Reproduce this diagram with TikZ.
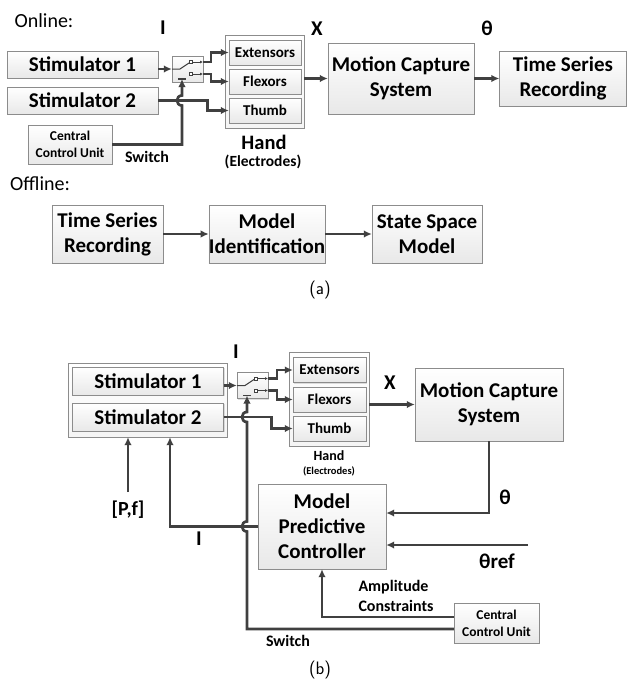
\documentclass[tikz,border=0pt]{standalone}
\usepackage{fontspec}
\setmainfont{Carlito}
\usetikzlibrary{arrows.meta,calc,shadows}

% switch drawn inside a switch box
\newcommand{\drawswitch}[1]{%
  \begin{scope}[shift={(#1.center)}, line width=1pt, draw=black!75]
    \draw (-15.5,0) -- (-7.5,0) -- (1.5,-6);
    \draw[line width=0.6pt, fill=white] (2,-8.5) rectangle (5,-5.5);
    \draw[line width=0.6pt, fill=white] (2,3.5) rectangle (5,6.5);
    \draw[-{Latex[length=3pt,width=3pt]}] (5,-7) -- (15.5,-7);
    \draw[-{Latex[length=3pt,width=3pt]}] (5,5) -- (15.5,5);
    \draw[line width=1.4pt] (-9.5,10) -- (-1.5,10);
  \end{scope}}

\begin{document}
\begin{tikzpicture}[x=1pt,y=-1pt,>={Latex[length=8pt,width=7.5pt]}]
    \tikzstyle{block}=[draw=black!45, top color=white, bottom color=black!9, drop shadow={opacity=0.25,shadow xshift=1.2pt,shadow yshift=-1.2pt}, align=center, inner sep=0pt, font=\fontsize{21}{25}\selectfont\bfseries]
    \tikzstyle{frame}=[draw=black!45, top color=white, bottom color=black!4, inner sep=0pt]
    \tikzstyle{muscle}=[block, minimum width=72pt, minimum height=25pt, font=\fontsize{15}{16}\selectfont\bfseries]
    \tikzstyle{ccu}=[block, minimum width=84pt, minimum height=39pt, font=\fontsize{13.5}{17}\selectfont\bfseries]
    \tikzstyle{swbox}=[block, minimum width=31pt, minimum height=26pt]
    \tikzstyle{wire}=[->, line width=2.7pt, draw=black!75]
    \tikzstyle{sig}=[font=\fontsize{21}{25}\selectfont\bfseries]
    \tikzstyle{annot}=[font=\fontsize{16}{20}\selectfont\bfseries, align=left]
    \tikzstyle{title}=[font=\fontsize{20}{24}\selectfont]
    \tikzstyle{caption}=[font=\fontsize{18}{22}\selectfont\sffamily]

    \useasboundingbox (0,0) rectangle (627,681);

    %%% (a) ONLINE
    \node[title] (online) at (44,21) {Online:};
    \node[sig] (Ia) at (163,28) {I};
    \node[sig] (Xa) at (317,29) {X};
    \node[sig] (tha) at (487,28) {θ};

    \node[block, minimum width=151pt, minimum height=27pt] (S1a) at (82.5,64.5) {Stimulator 1};
    \node[block, minimum width=151pt, minimum height=27pt] (S2a) at (82.5,100.5) {Stimulator 2};
    \node[ccu] (CCUa) at (70,144.5) {Central\\Control Unit};
    \node[annot] (swa) at (147,157) {Switch};
    \node[swbox] (SWa) at (187.5,69) {};
    \drawswitch{SWa}

    \node[frame, minimum width=79pt, minimum height=93pt] (Ha) at (264.5,81.5) {};
    \foreach \name / \txt / \y in {Ea/Extensors/52.5, Fa/Flexors/81.5, Ta/Thumb/110.5}
        \node[muscle] (\name) at (265,\y) {\txt};
    \node[sig, font=\fontsize{20.5}{24}\selectfont\bfseries] (handa) at (264,142) {Hand};
    \node[annot, font=\fontsize{15.5}{18}\selectfont\bfseries] (elea) at (263,162) {(Electrodes)};

    \node[block, minimum width=146pt, minimum height=71pt] (MCSa) at (401,78.5) {Motion Capture\\System};
    \node[block, minimum width=127pt, minimum height=55pt] (TSRa) at (563,78.5) {Time Series\\Recording};

    \coordinate (SWa-o1) at ($(SWa.center)+(15.5,-7)$);
    \coordinate (SWa-o2) at ($(SWa.center)+(15.5,5)$);
    \coordinate (SWa-in) at ($(SWa.center)+(-5.5,10)$);
    \coordinate (hopA) at (SWa-in |- S2a.east);

    \draw[wire] (S1a.east |- SWa.west) -- (SWa.west);
    \draw[wire] (SWa-o1) -- ++(8,0) |- (Ea.west);
    \draw[wire] (SWa-o2) -- ++(8,0) |- (Fa.west);
    \draw[wire] (S2a.east) -- ++(49,0) |- (Ta.west);
    \draw[wire] (CCUa.east) -| ($(hopA)+(0,5)$) to[out=180,in=180,looseness=1.7] ($(hopA)+(0,-5)$) -- (SWa-in);
    \draw[wire] (Ha.east |- MCSa.west) -- (MCSa.west);
    \draw[wire] (MCSa.east) -- (TSRa.west);

    %%% (a) OFFLINE
    \node[title] (offline) at (40,184) {Offline:};
    \node[block, minimum width=111pt, minimum height=58pt] (TSRo) at (107.5,234) {Time Series\\Recording};
    \node[block, minimum width=110pt, minimum height=58pt] (MIo) at (267,234) {Model\\Identification};
    \node[block, minimum width=110pt, minimum height=58pt] (SSMo) at (427,234) {State Space\\Model};
    \draw[wire] (TSRo.east) -- (MIo.west);
    \draw[wire] (MIo.east) -- (SSMo.west);
    \node[caption] (capa) at (320,290) {(a)};

    %%% (b) CLOSED LOOP
    \node[sig] (Ib) at (236,352) {I};
    \node[sig] (Xb) at (390,383) {X};
    \node[sig] (thb) at (505,497) {θ};
    \node[sig] (threfl) at (497,561) {θref};
    \node[sig] (Il) at (199,539) {I};
    \node[sig, font=\fontsize{20}{24}\selectfont\bfseries] (Pf) at (128,510) {[P,f]};

    \node[frame, minimum width=159pt, minimum height=74pt] (Sb) at (147.5,400) {};
    \node[block, minimum width=151pt, minimum height=28pt] (S1b) at (148,381) {Stimulator 1};
    \node[block, minimum width=151pt, minimum height=28pt] (S2b) at (148,417) {Stimulator 2};
    \node[swbox] (SWb) at (252.5,385.5) {};
    \drawswitch{SWb}

    \node[frame, minimum width=80pt, minimum height=94pt] (Hb) at (329,399) {};
    \foreach \name / \txt / \y in {Eb/Extensors/370, Fb/Flexors/399.5, Tb/Thumb/428.5}
        \node[muscle, minimum width=73pt] (\name) at (329.5,\y) {\txt};
    \node[sig, font=\fontsize{14}{16}\selectfont\bfseries] (handb) at (329,456) {Hand};
    \node[annot, font=\fontsize{10.5}{12}\selectfont\bfseries] (eleb) at (329,471) {(Electrodes)};

    \node[block, minimum width=148pt, minimum height=73pt] (MCSb) at (489,404.5) {Motion Capture\\System};
    \node[block, minimum width=128pt, minimum height=85pt] (MPC) at (322,526.5) {Model\\Predictive\\Controller};
    \node[ccu, minimum width=85pt, minimum height=40pt] (CCUb) at (496.5,623) {Central\\Control Unit};
    \node[annot, anchor=west] (amp) at (355,596) {Amplitude\\Constraints};
    \node[annot] (swb) at (288,641) {Switch};

    \coordinate (SWb-o1) at ($(SWb.center)+(15.5,-7)$);
    \coordinate (SWb-o2) at ($(SWb.center)+(15.5,5)$);
    \coordinate (SWb-in) at ($(SWb.center)+(-5.5,10)$);
    \coordinate (Sb-in) at ($(Sb.south)+(22.5,0)$);
    \coordinate (Pf-top) at (128,492);
    \coordinate (MPC-th) at ($(MPC.east)+(0,-13.5)$);
    \coordinate (MPC-ref) at ($(MPC.east)+(0,18.5)$);
    \coordinate (thref) at (528,545);
    \coordinate (CCUb-a) at ($(CCUb.west)+(0,-6)$);
    \coordinate (CCUb-s) at ($(CCUb.west)+(0,6)$);
    \coordinate (hopB1) at (SWb-in |- S2b.east);
    \coordinate (hopB2) at (SWb-in |- MPC.west);

    \draw[wire] (S1b.east |- SWb.west) -- (SWb.west);
    \draw[wire] (SWb-o1) -- ++(9,0) |- (Eb.west);
    \draw[wire] (SWb-o2) -- ++(9,0) |- (Fb.west);
    \draw[wire] (S2b.east) -- ++(47.5,0) |- (Tb.west);
    \draw[wire] (Hb.east |- MCSb.west) -- (MCSb.west);
    \draw[wire] (MCSb.south) |- (MPC-th);
    \draw[wire] (thref) -- (MPC-ref);
    \draw[wire] (Pf-top) -- (Pf-top |- Sb.south);
    \draw[wire] (MPC.west) -| (Sb-in);
    \draw[wire] (CCUb-a) -| (MPC.south);
    \draw[wire] (CCUb-s) -| ($(hopB2)+(0,5)$) to[out=180,in=180,looseness=1.7] ($(hopB2)+(0,-5)$)
        -- ($(hopB1)+(0,5)$) to[out=180,in=180,looseness=1.7] ($(hopB1)+(0,-5)$) -- (SWb-in);

    \node[caption] (capb) at (320,670) {(b)};
\end{tikzpicture}
\end{document}
